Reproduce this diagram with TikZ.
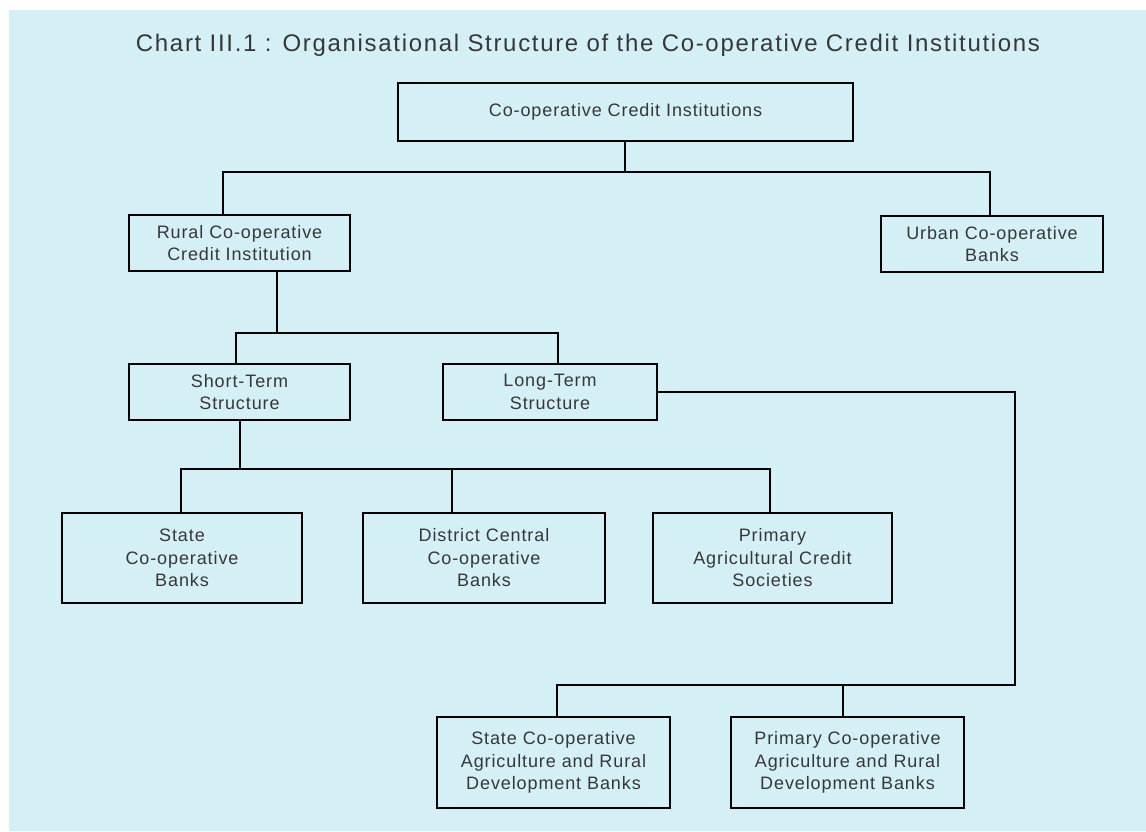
\documentclass[tikz,border=0pt]{standalone}
\usepackage{fontspec}
\usepackage{xcolor}
\newfontfamily\chartfont[LetterSpace=5]{Liberation Sans}
\newfontfamily\titlefont[LetterSpace=7]{Liberation Sans}
\definecolor{chartbg}{RGB}{213,239,247}
\definecolor{chartink}{RGB}{55,55,55}
\usepackage{tikz}

\begin{document}
\begin{tikzpicture}[x=1pt,y=-1pt,line width=1.6pt]

\tikzstyle{orgbox}=[draw=black,align=center,inner sep=0pt,text=chartink,
  font=\chartfont\fontsize{18}{22.5}\selectfont]
\tikzstyle{smallbox}=[orgbox,minimum width=221pt,minimum height=56pt]
\tikzstyle{bigbox}=[orgbox,minimum width=240pt,minimum height=90pt]

%% page and background
\useasboundingbox (0,0) rectangle (1146,831);
\fill[chartbg] (9,10) rectangle (1146,831);

%% title
\node[text=chartink,font=\titlefont\fontsize{24}{28}\selectfont] (title) at (588,45)
  {Chart III.1 : Organisational Structure of the Co-operative Credit Institutions};

%% boxes
\node[orgbox,minimum width=455pt,minimum height=58pt] (top) at (625.5,112) {Co-operative Credit Institutions};
\node[smallbox] (rural) at (239.5,243) {Rural Co-operative\\Credit Institution};
\node[smallbox,minimum width=222pt] (urban) at (992,244) {Urban Co-operative\\Banks};
\node[smallbox] (short) at (239.5,392) {Short-Term\\Structure};
\node[smallbox,minimum width=214pt] (long) at (550,392) {Long-Term\\Structure};
\node[bigbox] (state) at (182,558) {State\\Co-operative\\Banks};
\node[bigbox,minimum width=242pt] (dccb) at (484,558) {District Central\\Co-operative\\Banks};
\node[bigbox,minimum width=239pt] (pacs) at (772.5,558) {Primary\\Agricultural Credit\\Societies};
\node[bigbox,minimum width=233pt,minimum height=91pt] (scardb) at (553.5,762.5) {State Co-operative\\Agriculture and Rural\\Development Banks};
\node[bigbox,minimum width=233pt,minimum height=91pt] (pcardb) at (847.5,762.5) {Primary Co-operative\\Agriculture and Rural\\Development Banks};

%% junctions
\coordinate (b1) at (625,172);
\coordinate (b1l) at (223,172);
\coordinate (b1r) at (990,172);
\coordinate (b2) at (277,333);
\coordinate (b2l) at (236,333);
\coordinate (b2r) at (558,333);
\coordinate (b3) at (240,469);
\coordinate (b3l) at (181,469);
\coordinate (b3m) at (452,469);
\coordinate (b3r) at (770,469);
\coordinate (b4) at (1015,685);
\coordinate (b4l) at (557,685);
\coordinate (b4m) at (843,685);

%% connectors
\draw (b1 |- top.south) -- (b1);
\draw (b1l |- rural.north) -- (b1l) -- (b1r) -- (b1r |- urban.north);
\draw (b2 |- rural.south) -- (b2);
\draw (b2l |- short.north) -- (b2l) -- (b2r) -- (b2r |- long.north);
\draw (b3 |- short.south) -- (b3);
\draw (b3l |- state.north) -- (b3l) -- (b3r) -- (b3r |- pacs.north);
\draw (b3m) -- (b3m |- dccb.north);
\draw (long.east) -| (b4) -- (b4l) -- (b4l |- scardb.north);
\draw (b4m) -- (b4m |- pcardb.north);

\end{tikzpicture}
\end{document}
